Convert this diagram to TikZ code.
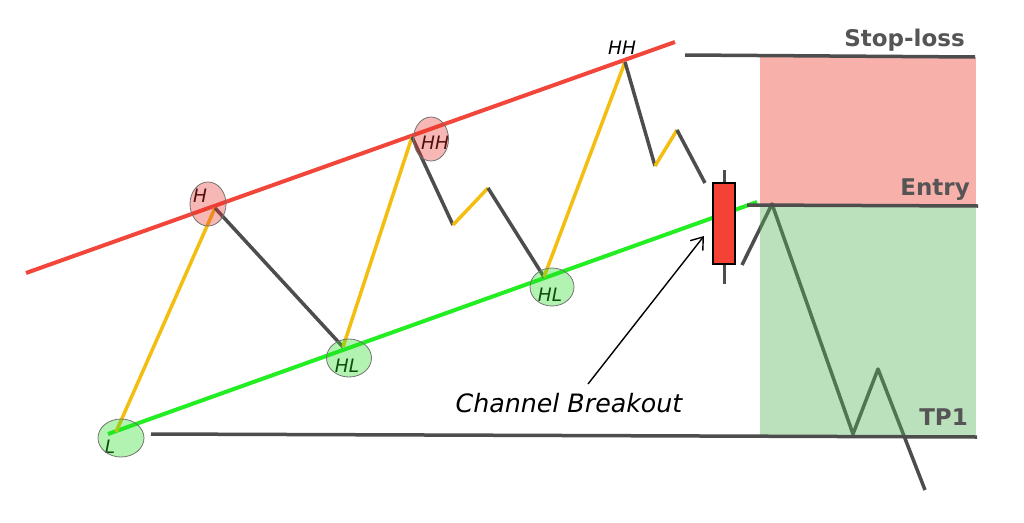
\documentclass[tikz,border=0pt]{standalone}
\usepackage{fontspec}
\setmainfont{DejaVu Sans}
\usetikzlibrary{arrows.meta,shapes.geometric}
\definecolor{chred}{HTML}{F2463A}
\definecolor{chgreen}{HTML}{22EE22}
\definecolor{chyel}{HTML}{F4BE10}
\definecolor{chgray}{HTML}{4D4D4D}
\definecolor{slred}{HTML}{F8B0AA}
\definecolor{tpfill}{HTML}{55B158}
\definecolor{candlered}{HTML}{F44336}
\definecolor{circred}{HTML}{E8302A}
\definecolor{circgreen}{HTML}{22DD22}
\definecolor{lvltext}{HTML}{555555}
\begin{document}
\begin{tikzpicture}[x=1pt,y=-1pt,
  chanline/.style={line width=4pt},
  upleg/.style={chyel,line width=3.5pt,line join=round},
  downleg/.style={chgray,line width=3.5pt,line join=round},
  level/.style={chgray,line width=3.5pt},
  lvllabel/.style={font=\bfseries\fontsize{23}{23}\selectfont,text=lvltext,inner sep=0pt,anchor=base east},
  ptlabel/.style={font=\itshape\fontsize{18.5}{18.5}\selectfont,text=black,inner sep=0pt,anchor=base},
  hicirc/.style={ellipse,draw=black!55,line width=0.8pt,fill=circred,fill opacity=0.35,inner sep=0pt},
  locirc/.style={ellipse,draw=black!55,line width=0.8pt,fill=circgreen,fill opacity=0.35,inner sep=0pt}]
\useasboundingbox (0,0) rectangle (1024,522);
% zones
\fill[slred] (760,57) rectangle (976,205);
% channel lines
\coordinate (rA) at (26,273);
\coordinate (rB) at (675,42);
\coordinate (gA) at (108,434);
\coordinate (gB) at (757,202);
\draw[chanline,chred] (rA) -- (rB);
\draw[chanline,chgreen] (gA) -- (gB);
% price path points
\coordinate (p0) at (116,432);
\coordinate (p1) at (215,208);
\coordinate (p2) at (343,347);
\coordinate (p3) at (412,137);
\coordinate (p4) at (453,225);
\coordinate (p5) at (488,188);
\coordinate (p6) at (544,277);
\coordinate (p7) at (625,62);
\coordinate (p8) at (655,166);
\coordinate (p9) at (677,130);
\coordinate (p10) at (705,183);
\draw[upleg] (p0) -- (p1);
\draw[downleg] (p1) -- (p2);
\draw[upleg] (p2) -- (p3);
\draw[downleg] (p3) -- (p4);
\draw[upleg] (p4) -- (p5);
\draw[downleg] (p5) -- (p6);
\draw[upleg] (p6) -- (p7);
\draw[downleg] (p7) -- (p8);
\draw[upleg] (p8) -- (p9);
\draw[downleg] (p9) -- (p10);
% after breakout
\coordinate (q0) at (742,265);
\coordinate (q1) at (772,204);
\coordinate (q2) at (853,434);
\coordinate (q3) at (878,369);
\coordinate (q4) at (925,490);
\draw[downleg] (q0) -- (q1) -- (q2) -- (q3) -- (q4);
\fill[tpfill,fill opacity=0.4] (760,207) rectangle (976,437);
% levels
\coordinate (slA) at (685,55);
\coordinate (slB) at (975,57);
\coordinate (enA) at (747,205);
\coordinate (enB) at (978,206);
\coordinate (tpA) at (151,434);
\coordinate (tpB) at (977,437);
\draw[level] (slA) -- (slB);
\draw[level] (enA) -- (enB);
\draw[level] (tpA) -- (tpB);
\node[lvllabel] (sl) at (965,46) {Stop-loss};
\node[lvllabel] (en) at (970,195) {Entry};
\node[lvllabel] (tp) at (968,425) {TP1};
% candle
\coordinate (wT) at (724,170);
\coordinate (wB) at (724,284);
\draw[chgray,line width=3pt] (wT) -- (wB);
\node[draw=black,line width=2pt,fill=candlered,minimum width=22pt,minimum height=81pt,inner sep=0pt] (candle) at (724,223.5) {};
% point labels
\node[ptlabel] (tH) at (200,202) {H};
\node[ptlabel] (tHH) at (435,149) {HH};
\node[ptlabel] (tHL1) at (347,372) {HL};
\node[ptlabel] (tL) at (110,453) {L};
\node[ptlabel] (tHL2) at (550,301) {HL};
\node[ptlabel] (tHHtop) at (622,54) {HH};
\node[hicirc,minimum width=36pt,minimum height=44pt] (cH) at (208,204) {};
\node[hicirc,minimum width=35pt,minimum height=44pt] (cHH) at (431,139) {};
\node[locirc,minimum width=45pt,minimum height=38pt] (cHL1) at (349,358) {};
\node[locirc,minimum width=46pt,minimum height=38pt] (cL) at (121,438) {};
\node[locirc,minimum width=44pt,minimum height=38pt] (cHL2) at (552,287) {};
% annotation
\node[font=\itshape\fontsize{25.3}{25.3}\selectfont,inner sep=0pt,anchor=base] (cb) at (569,412) {Channel Breakout};
\coordinate (arT) at (588,384);
\coordinate (arH) at (704,236);
\draw[black,line width=1.4pt,-{Straight Barb[length=11pt,width=16pt,line width=1.4pt]}] (arT) -- (arH);
\end{tikzpicture}
\end{document}
